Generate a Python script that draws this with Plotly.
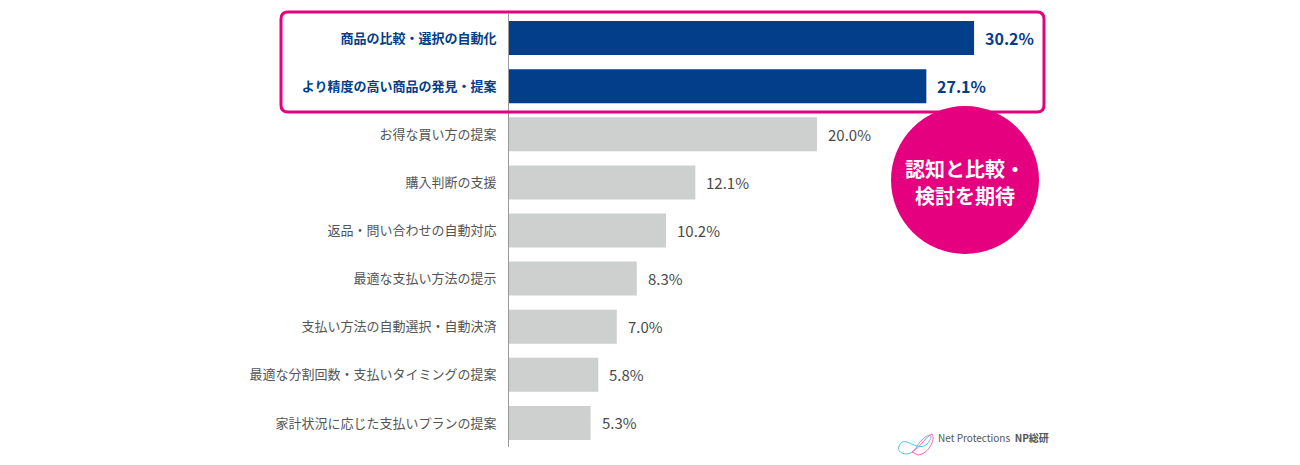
import plotly.graph_objects as go

categories = [
    "商品の比較・選択の自動化",
    "より精度の高い商品の発見・提案",
    "お得な買い方の提案",
    "購入判断の支援",
    "返品・問い合わせの自動対応",
    "最適な支払い方法の提示",
    "支払い方法の自動選択・自動決済",
    "最適な分割回数・支払いタイミングの提案",
    "家計状況に応じた支払いプランの提案",
]
values = [30.2, 27.1, 20.0, 12.1, 10.2, 8.3, 7.0, 5.8, 5.3]
highlight_count = 2
callout_lines = ["認知と比較・", "検討を期待"]

NAVY = "#023E8A"
GRAY_BAR = "#CECFCF"
PINK = "#E4007F"
LABEL_GRAY = "#555555"
VALUE_GRAY = "#4A4A4A"
FONT = "Noto Sans CJK JP"

OFF = 8  # page body margin
W, H = 1300 - OFF, 465 - OFF
ML, MR, MT, MB = 509 - OFF, 21, 14 - OFF, 18
PW, PH = W - ML - MR, H - MT - MB


def px_x(p):
    return (p - OFF - ML) / PW


def px_y(p):
    return (H - MB - (p - OFF)) / PH


colors = [NAVY if i < highlight_count else GRAY_BAR for i in range(len(categories))]
ticktext = []
for i, c in enumerate(categories):
    if i < highlight_count:
        ticktext.append(f"<b><span style='color:{NAVY}'>{c}</span></b>")
    else:
        ticktext.append(c)

fig = go.Figure(
    go.Bar(
        x=values,
        y=categories,
        orientation="h",
        marker=dict(color=colors, line=dict(width=0)),
        width=0.707,
        hoverinfo="skip",
    )
)

annotations = []
for i, (c, v) in enumerate(zip(categories, values)):
    hl = i < highlight_count
    annotations.append(
        dict(
            x=v,
            y=c,
            xref="x",
            yref="y",
            text=f"{v:.1f}%",
            showarrow=False,
            xanchor="left",
            xshift=9,
            font=dict(family=FONT, size=16 if hl else 15,
                      color=NAVY if hl else VALUE_GRAY,
                      weight=600 if hl else 400),
        )
    )

# callout text in circle (two lines)
for line, yc in zip(callout_lines, [168, 195]):
    annotations.append(
        dict(
            x=px_x(965),
            y=px_y(yc),
            xref="paper",
            yref="paper",
            text=f"<b>{line}</b>",
            showarrow=False,
            font=dict(family=FONT, size=20, color="white"),
            align="center",
        )
    )
# logo text
annotations.append(
    dict(
        x=px_x(936),
        y=px_y(447),
        xref="paper",
        yref="paper",
        text="Net Protections  <b>NP総研</b>",
        showarrow=False,
        xanchor="left",
        font=dict(family=FONT, size=10, color="#555555"),
    )
)

# rounded highlight box
x0, x1 = px_x(281), px_x(1044)
y0, y1 = px_y(112), px_y(12)
rx, ry = 7 / PW, 7 / PH
path = (
    f"M {x0+rx},{y1} L {x1-rx},{y1} Q {x1},{y1} {x1},{y1-ry} "
    f"L {x1},{y0+ry} Q {x1},{y0} {x1-rx},{y0} "
    f"L {x0+rx},{y0} Q {x0},{y0} {x0},{y0+ry} "
    f"L {x0},{y1-ry} Q {x0},{y1} {x0+rx},{y1} Z"
)

shapes = [
    dict(type="path", path=path, xref="paper", yref="paper",
         line=dict(color=PINK, width=3), fillcolor="rgba(0,0,0,0)", layer="above"),
    dict(type="circle", xref="paper", yref="paper",
         x0=px_x(891), x1=px_x(1039), y0=px_y(254), y1=px_y(106),
         fillcolor=PINK, line=dict(width=0), layer="above"),
    # logo loops
    dict(type="path", xref="paper", yref="paper",
         path=f"M {px_x(899)},{px_y(446)} C {px_x(905)},{px_y(432)} {px_x(920)},{px_y(458)} {px_x(930)},{px_y(440)} "
              f"C {px_x(934)},{px_y(432)} {px_x(924)},{px_y(434)} {px_x(916)},{px_y(448)} "
              f"C {px_x(910)},{px_y(458)} {px_x(896)},{px_y(454)} {px_x(899)},{px_y(446)} Z",
         line=dict(color="#4FC3E8", width=1), fillcolor="rgba(0,0,0,0)", layer="above"),
    dict(type="path", xref="paper", yref="paper",
         path=f"M {px_x(912)},{px_y(452)} C {px_x(922)},{px_y(446)} {px_x(926)},{px_y(436)} {px_x(932)},{px_y(434)} "
              f"C {px_x(936)},{px_y(440)} {px_x(928)},{px_y(454)} {px_x(918)},{px_y(455)} Z",
         line=dict(color="#E86AB3", width=1), fillcolor="rgba(0,0,0,0)", layer="above"),
]

fig.update_layout(
    width=W,
    height=H,
    margin=dict(l=ML, r=MR, t=MT, b=MB, pad=0),
    paper_bgcolor="white",
    plot_bgcolor="white",
    showlegend=False,
    bargap=0.29,
    font=dict(family=FONT, size=13, color=LABEL_GRAY),
    xaxis=dict(range=[0, 50], visible=False, fixedrange=True),
    yaxis=dict(
        categoryorder="array",
        categoryarray=categories,
        autorange="reversed",
        tickvals=categories,
        ticktext=ticktext,
        ticks="",
        showline=True,
        linecolor="#999999",
        linewidth=1,
        showgrid=False,
        zeroline=False,
        ticklabelstandoff=9,
        tickfont=dict(family=FONT, size=13, color=LABEL_GRAY),
        fixedrange=True,
    ),
    annotations=annotations,
    shapes=shapes,
)

fig.write_html("out.html")
